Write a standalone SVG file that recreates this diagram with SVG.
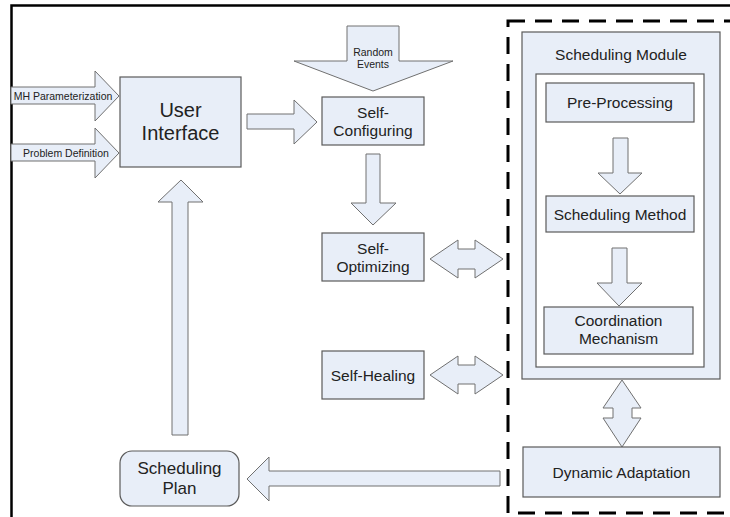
<svg xmlns="http://www.w3.org/2000/svg" width="730" height="517" viewBox="0 0 730 517">
<style>
.box{fill:#e8eef8;stroke:#5a5a5a;stroke-width:1.2}
.arr{fill:#e8eef8;stroke:#707070;stroke-width:1}
text{font-family:"Liberation Sans",Arial,sans-serif;fill:#222;text-anchor:middle}
.m{font-size:15.5px}
.s{font-size:10.5px}
</style>
<rect x="0" y="0" width="730" height="517" fill="#fff"/>
<rect x="11.5" y="5.5" width="740" height="530" fill="none" stroke="#000" stroke-width="2.5"/>
<rect id="dashed-frame" x="508" y="21" width="240" height="492" fill="none" stroke="#000" stroke-width="3" stroke-dasharray="17 10"/>
<g id="scheduling-module"><rect class="box" x="522" y="32" width="198" height="347"/><rect x="536" y="74" width="168" height="293" fill="#fff" stroke="#5a5a5a" stroke-width="1.2"/><text class="m" x="621" y="59.5">Scheduling Module</text></g>
<g id="connectors">
<polygon class="arr" points="11,87 95,87 95,71 119,96 95,121 95,104 11,104"/>
<polygon class="arr" points="11,144 95,144 95,128 119,153 95,178 95,161 11,161"/>
<polygon class="arr" points="247,114 294,114 294,100 317,122 294,144 294,129 247,129"/>
<polygon class="arr" points="347,26 399,26 399,61 453,61 373,91 294,61 347,61"/>
<polygon class="arr" points="366,154 380,154 380,203 396,203 373,225 351,203 366,203"/>
<polygon class="arr" points="430,259 458,240 458,249 475,249 475,240 503,259 475,278 475,269 458,269 458,278"/>
<polygon class="arr" points="430,375 458,356 458,365 475,365 475,356 503,375 475,394 475,384 458,384 458,394"/>
<polygon class="arr" points="613,138 628,138 628,173 642,173 620,194 598,173 613,173"/>
<polygon class="arr" points="612,248 627,248 627,283 642,283 619,306 597,283 612,283"/>
<polygon class="arr" points="622,380 641,408 632,408 632,418 641,418 622,447 603,418 613,418 613,408 603,408"/>
<polygon class="arr" points="247,479 269,457 269,471 500,471 500,486 269,486 269,501"/>
<polygon class="arr" points="181,180 203,202 188,202 188,435 172,435 172,202 158,202"/>
</g>
<g id="mh-param"><text class="s" x="63" y="99.5">MH Parameterization</text></g>
<g id="problem-def"><text class="s" x="66" y="156.5">Problem Definition</text></g>
<g id="random-events"><text class="s" x="373" y="55.5">Random</text><text class="s" x="373" y="67.5">Events</text></g>
<g id="user-interface"><rect class="box" x="120" y="77" width="121" height="90"/><text x="180.5" y="117" font-size="20">User</text><text x="180.5" y="140" font-size="20">Interface</text></g>
<g id="self-configuring"><rect class="box" x="322" y="97" width="102" height="48"/><text class="m" x="373" y="117.5">Self-</text><text class="m" x="373" y="135.5">Configuring</text></g>
<g id="self-optimizing"><rect class="box" x="322" y="233" width="102" height="48"/><text class="m" x="373" y="253.5">Self-</text><text class="m" x="373" y="271.5">Optimizing</text></g>
<g id="self-healing"><rect class="box" x="322" y="351" width="102" height="48"/><text class="m" x="373" y="380.5">Self-Healing</text></g>
<g id="pre-processing"><rect class="box" x="546" y="83" width="148" height="39"/><text class="m" x="620" y="108">Pre-Processing</text></g>
<g id="scheduling-method"><rect class="box" x="546" y="196" width="148" height="36"/><text class="m" x="620" y="219.5">Scheduling Method</text></g>
<g id="coordination-mechanism"><rect class="box" x="544" y="307" width="149" height="47"/><text class="m" x="618.5" y="326">Coordination</text><text class="m" x="618.5" y="344">Mechanism</text></g>
<g id="dynamic-adaptation"><rect class="box" x="523" y="447" width="197" height="50"/><text class="m" x="621.5" y="477.5">Dynamic Adaptation</text></g>
<g id="scheduling-plan"><rect class="box" x="120" y="451" width="119" height="55" rx="12"/><text x="179.5" y="474" font-size="17">Scheduling</text><text x="179.5" y="494" font-size="17">Plan</text></g>
</svg>
